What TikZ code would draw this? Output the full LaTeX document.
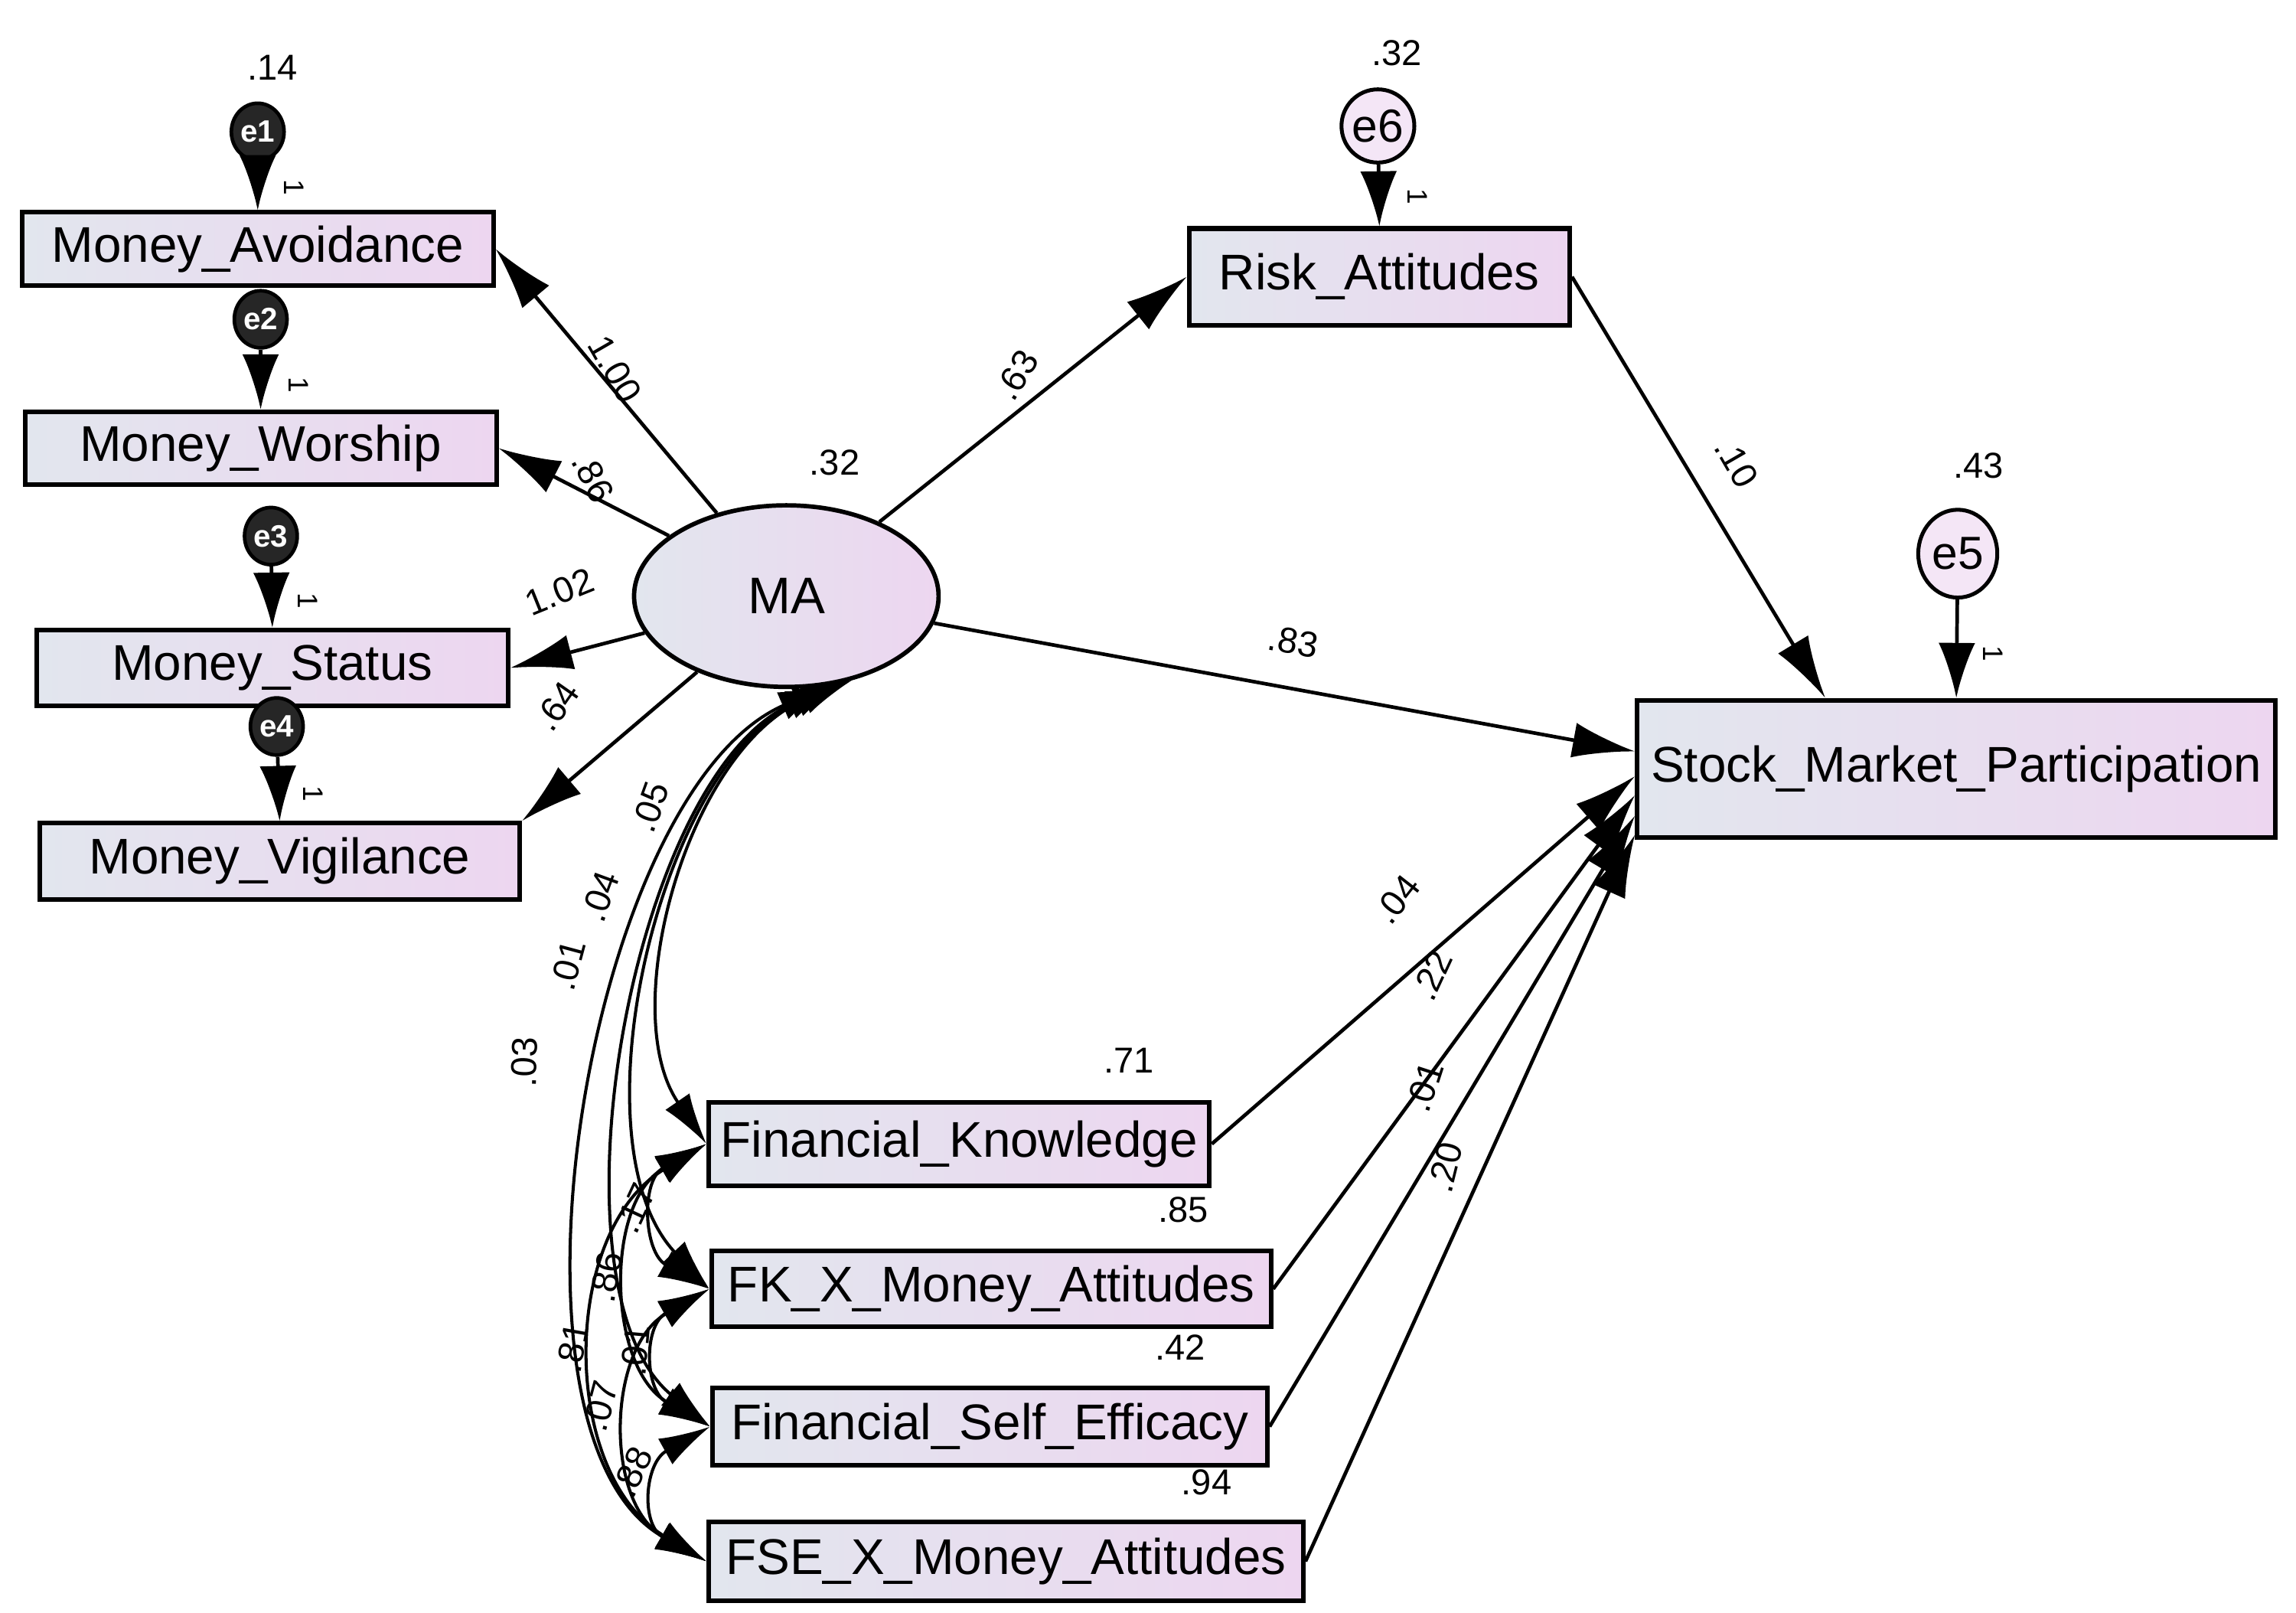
\documentclass[tikz,border=0pt]{standalone}
\usepackage{fontspec}
\setmainfont{Liberation Sans}
\usetikzlibrary{arrows.meta,shapes.geometric,calc}
\definecolor{boxleft}{HTML}{E2E6EE}
\definecolor{boxright}{HTML}{EDD6F0}
\tikzset{obsbox/.style={draw,line width=1.8pt,left color=boxleft,right color=boxright,inner sep=0pt,font=\fontsize{19.5}{20}\selectfont},
  latent/.style={ellipse,draw,line width=1.7pt,left color=boxleft,right color=boxright,inner sep=0pt,font=\fontsize{20}{22}\selectfont},
  errc/.style={ellipse,draw,line width=1.5pt,fill=boxright!60,inner sep=0pt,font=\fontsize{18}{18}\selectfont},
  smallerr/.style={ellipse,draw,line width=1.4pt,fill=black!85,text=white,inner sep=0pt,minimum width=0.72cm,minimum height=0.78cm,font=\bfseries\fontsize{12}{12}\selectfont},
  regpath/.style={line width=1.4pt,-{Latex[length=0.85cm,width=0.48cm]}},
  errpath/.style={line width=1.4pt,-{Latex[length=0.75cm,width=0.5cm]}},
  covpath/.style={line width=1.2pt,{Latex[length=0.7cm,width=0.4cm]}-{Latex[length=0.7cm,width=0.4cm]}},
  est/.style={font=\fontsize{14}{14}\selectfont,inner sep=0pt},
  one/.style={font=\fontsize{11}{11}\selectfont,inner sep=0pt,rotate=-90}}

\begin{document}
\begin{tikzpicture}[x=0.02cm,y=-0.02cm]
        \useasboundingbox (0,0) rectangle (1568,1101);
        % money attitude indicators
        \node[obsbox,minimum width=6.44cm,minimum height=1.0cm] (av) at (176,170) {Money\_Avoidance};
        \node[obsbox,minimum width=6.44cm,minimum height=1.0cm] (wo) at (178,306) {Money\_Worship};
        \node[obsbox,minimum width=6.44cm,minimum height=1.04cm] (st) at (186,456) {Money\_Status};
        \node[obsbox,minimum width=6.56cm,minimum height=1.04cm] (vi) at (191,588) {Money\_Vigilance};
        \node[smallerr] (e1) at (176,90) {e1};
        \node[smallerr] (e2) at (178,218) {e2};
        \node[smallerr] (e3) at (185,366) {e3};
        \node[smallerr] (e4) at (189,496) {e4};
        \node[latent,minimum width=4.16cm,minimum height=2.48cm] (ma) at (537,407) {MA};
        % mediator and outcome
        \node[obsbox,minimum width=5.2cm,minimum height=1.32cm] (ra) at (942,189) {Risk\_Attitudes};
        \node[obsbox,minimum width=8.72cm,minimum height=1.88cm] (smp) at (1336,525) {Stock\_Market\_Participation};
        \node[errc,minimum width=0.8cm,minimum height=1.0cm] (e6) at (941,86) {e6};
        \node[errc,minimum width=1.08cm,minimum height=1.2cm] (e5) at (1337,378) {e5};
        % exogenous boxes
        \node[obsbox,minimum width=6.84cm,minimum height=1.14cm] (fk) at (655,781) {Financial\_Knowledge};
        \node[obsbox,minimum width=7.64cm,minimum height=1.04cm] (fkx) at (677,880) {FK\_X\_Money\_Attitudes};
        \node[obsbox,minimum width=7.58cm,minimum height=1.06cm] (fse) at (676,974) {Financial\_Self\_Efficacy};
        \node[obsbox,minimum width=8.12cm,minimum height=1.08cm] (fsex) at (687,1066) {FSE\_X\_Money\_Attitudes};

        \draw[errpath] (e1) -- (av.north);
        \draw[errpath] (e2) -- (wo.north);
        \draw[errpath] (e3) -- (st.north);
        \draw[errpath] (e4) -- (vi.north);
        \draw[errpath] (e6) -- (ra.north);
        \draw[errpath] (e5) -- (smp.north);

        \draw[regpath] (ma) -- (av.east);
        \draw[regpath] (ma) -- (wo.east);
        \draw[regpath] (ma) -- (st.east);
        \draw[regpath] (ma) -- (vi.north east);
        \draw[regpath] (ma) -- (ra.west);
        \draw[regpath] (ma) -- ($(smp.west)+(0,-12)$);
        \draw[regpath] (ra.east) -- ($(smp.north west)+(130,0)$);
        \draw[regpath] (fk.east) -- ($(smp.west)+(0,5)$);
        \draw[regpath] (fkx.east) -- ($(smp.west)+(0,18)$);
        \draw[regpath] (fse.east) -- ($(smp.west)+(0,32)$);
        \draw[regpath] (fsex.east) -- ($(smp.west)+(0,45)$);

        % covariances
        \draw[covpath] (ma.-52) .. controls (470,510) and (420,690) .. (fk.west);
        \draw[covpath] (ma.-56) .. controls (450,520) and (390,780) .. (fkx.west);
        \draw[covpath] (ma.-60) .. controls (430,530) and (370,880) .. (fse.west);
        \draw[covpath] (ma.-64) .. controls (400,540) and (330,980) .. (fsex.west);
        \draw[covpath] (fk.west) .. controls +(-45,25) and +(-45,-25) .. (fkx.west);
        \draw[covpath] (fk.west) .. controls +(-70,40) and +(-70,-40) .. (fse.west);
        \draw[covpath] (fk.west) .. controls +(-100,60) and +(-100,-60) .. (fsex.west);
        \draw[covpath] (fkx.west) .. controls +(-45,25) and +(-45,-25) .. (fse.west);
        \draw[covpath] (fkx.west) .. controls +(-70,40) and +(-70,-40) .. (fsex.west);
        \draw[covpath] (fse.west) .. controls +(-45,25) and +(-45,-25) .. (fsex.west);

        % estimates
        \node[est] (v1) at (186,46) {.14};
        \node[est] (vma) at (570,316) {.32};
        \node[est] (vra) at (954,36) {.32};
        \node[est] (vsmp) at (1351,318) {.43};
        \node[est] (vfk) at (771,724) {.71};
        \node[est] (vfkx) at (808,826) {.85};
        \node[est] (vfse) at (806,920) {.42};
        \node[est] (vfsex) at (824,1012) {.94};
        \node[one] at (201,128) {1};
        \node[one] at (204,263) {1};
        \node[one] at (210,410) {1};
        \node[one] at (214,542) {1};
        \node[one] at (968,134) {1};
        \node[one] at (1361,446) {1};
        \node[est,rotate=-60] at (420,252) {1.00};
        \node[est,rotate=-62] at (405,326) {.86};
        \node[est,rotate=22] at (382,404) {1.02};
        \node[est,rotate=55] at (380,482) {.64};
        \node[est,rotate=58] at (694,256) {.63};
        \node[est,rotate=-60] at (1186,316) {.10};
        \node[est,rotate=-10] at (883,438) {.83};
        \node[est,rotate=52] at (954,614) {.04};
        \node[est,rotate=65] at (978,666) {.22};
        \node[est,rotate=72] at (973,742) {.01};
        \node[est,rotate=76] at (987,797) {.20};
        \node[est,rotate=70] at (444,551) {.05};
        \node[est,rotate=70] at (410,612) {.04};
        \node[est,rotate=75] at (388,659) {.01};
        \node[est,rotate=88] at (358,725) {.03};
        \node[est,rotate=65] at (434,825) {.17};
        \node[est,rotate=80] at (414,872) {.86};
        \node[est,rotate=85] at (434,922) {.01};
        \node[est,rotate=80] at (391,920) {.81};
        \node[est,rotate=75] at (410,960) {.07};
        \node[est,rotate=65] at (432,1005) {.88};
    \end{tikzpicture}
\end{document}
